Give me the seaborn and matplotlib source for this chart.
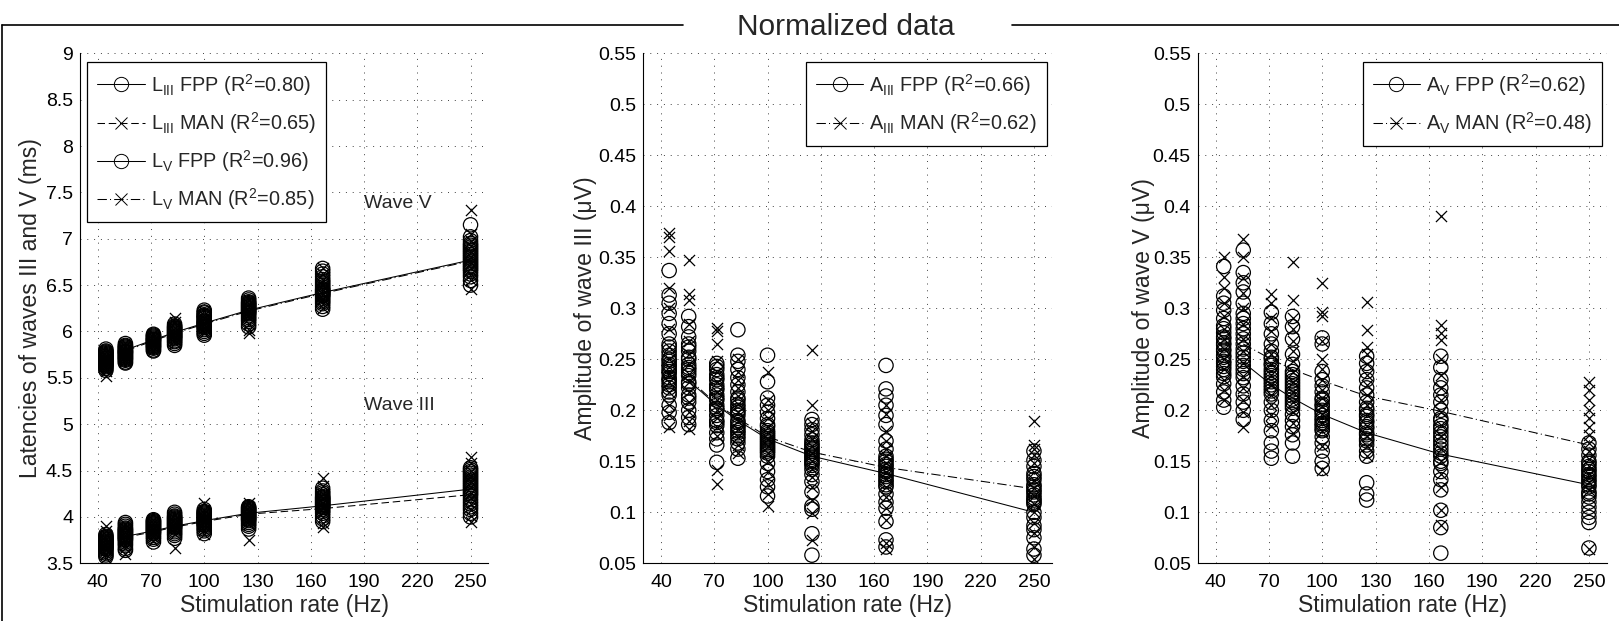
import numpy as np
import pandas as pd
import matplotlib
matplotlib.use("Agg")
import matplotlib.pyplot as plt
from matplotlib.lines import Line2D
from matplotlib.ticker import MultipleLocator, FixedLocator, FuncFormatter
import seaborn as sns

# ---------------- data ----------------
RATES = [44.6, 55.6, 71.4, 83.3, 100, 125, 166.7, 250]
FIT_RATES = [55.6, 71.4, 83.3, 100, 125, 166.7, 250]
X_TICKS = [40, 70, 100, 130, 160, 190, 220, 250]

# Panel 1 - latencies (ms)
LV_FPP = [
    [5.81, 5.79, 5.78, 5.77, 5.76, 5.75, 5.74, 5.73, 5.72, 5.71, 5.71, 5.70, 5.69, 5.68, 5.67, 5.66, 5.65, 5.64, 5.63, 5.62, 5.60, 5.58],
    [5.87, 5.85, 5.84, 5.83, 5.82, 5.81, 5.80, 5.79, 5.78, 5.78, 5.77, 5.76, 5.75, 5.74, 5.73, 5.72, 5.71, 5.70, 5.69, 5.67, 5.66],
    [5.97, 5.96, 5.95, 5.94, 5.93, 5.92, 5.91, 5.91, 5.90, 5.89, 5.88, 5.87, 5.86, 5.85, 5.84, 5.83, 5.82, 5.80, 5.79],
    [6.08, 6.06, 6.05, 6.04, 6.03, 6.02, 6.01, 6.00, 5.99, 5.98, 5.97, 5.96, 5.95, 5.94, 5.93, 5.92, 5.90, 5.89, 5.87, 5.85],
    [6.23, 6.21, 6.20, 6.18, 6.17, 6.16, 6.15, 6.14, 6.12, 6.11, 6.10, 6.09, 6.08, 6.07, 6.06, 6.05, 6.04, 6.02, 6.00, 5.98, 5.96],
    [6.36, 6.34, 6.32, 6.31, 6.30, 6.29, 6.28, 6.27, 6.26, 6.25, 6.24, 6.23, 6.22, 6.21, 6.20, 6.19, 6.17, 6.15, 6.13, 6.11, 6.08, 6.05],
    [6.68, 6.65, 6.62, 6.59, 6.56, 6.54, 6.52, 6.50, 6.48, 6.46, 6.45, 6.44, 6.43, 6.42, 6.41, 6.40, 6.39, 6.38, 6.36, 6.34, 6.32, 6.30, 6.27, 6.24],
    [7.15, 7.02, 6.98, 6.95, 6.93, 6.91, 6.89, 6.87, 6.85, 6.83, 6.81, 6.79, 6.77, 6.75, 6.73, 6.71, 6.69, 6.67, 6.65, 6.62, 6.59, 6.55, 6.50],
]
LV_MAN = [
    [5.78, 5.75, 5.72, 5.70, 5.68, 5.66, 5.64, 5.62, 5.60, 5.57, 5.52],
    [5.88, 5.84, 5.80, 5.78, 5.76, 5.74, 5.72, 5.70, 5.68],
    [5.97, 5.94, 5.91, 5.89, 5.87, 5.85, 5.83, 5.80],
    [6.14, 6.10, 6.04, 6.00, 5.97, 5.94, 5.91, 5.88],
    [6.22, 6.18, 6.14, 6.10, 6.07, 6.04, 6.01, 5.98],
    [6.34, 6.30, 6.26, 6.22, 6.18, 6.14, 6.08, 6.02, 5.98],
    [6.68, 6.62, 6.55, 6.50, 6.45, 6.40, 6.35, 6.30, 6.25],
    [7.31, 7.05, 6.98, 6.92, 6.86, 6.80, 6.74, 6.68, 6.62, 6.55, 6.46],
]
LIII_FPP = [
    [3.81, 3.79, 3.78, 3.77, 3.76, 3.75, 3.74, 3.73, 3.72, 3.72, 3.71, 3.70, 3.69, 3.68, 3.67, 3.66, 3.65, 3.63, 3.61, 3.59, 3.57],
    [3.94, 3.92, 3.90, 3.88, 3.87, 3.86, 3.85, 3.84, 3.83, 3.82, 3.81, 3.80, 3.79, 3.78, 3.77, 3.76, 3.75, 3.73, 3.71, 3.69, 3.66, 3.64],
    [3.97, 3.96, 3.95, 3.94, 3.93, 3.92, 3.91, 3.90, 3.89, 3.88, 3.87, 3.86, 3.85, 3.84, 3.83, 3.82, 3.80, 3.78, 3.76, 3.73],
    [4.05, 4.03, 4.01, 4.00, 3.99, 3.98, 3.97, 3.96, 3.95, 3.94, 3.93, 3.92, 3.91, 3.90, 3.89, 3.88, 3.86, 3.84, 3.82, 3.80, 3.77],
    [4.08, 4.06, 4.05, 4.04, 4.03, 4.02, 4.01, 4.00, 3.99, 3.98, 3.97, 3.96, 3.95, 3.94, 3.93, 3.92, 3.91, 3.89, 3.87, 3.85, 3.82],
    [4.11, 4.10, 4.09, 4.08, 4.07, 4.06, 4.05, 4.04, 4.03, 4.02, 4.01, 4.00, 3.99, 3.98, 3.97, 3.96, 3.94, 3.92, 3.90, 3.87],
    [4.31, 4.28, 4.26, 4.24, 4.22, 4.21, 4.20, 4.19, 4.18, 4.17, 4.16, 4.15, 4.14, 4.13, 4.12, 4.11, 4.10, 4.08, 4.06, 4.04, 4.01, 3.98, 3.95],
    [4.53, 4.51, 4.49, 4.47, 4.45, 4.43, 4.41, 4.39, 4.37, 4.35, 4.33, 4.31, 4.29, 4.27, 4.25, 4.23, 4.20, 4.17, 4.14, 4.11, 4.08, 4.04, 4.00],
]
LIII_MAN = [
    [3.90, 3.85, 3.80, 3.76, 3.73, 3.70, 3.67, 3.64, 3.60, 3.56],
    [3.92, 3.88, 3.84, 3.80, 3.77, 3.74, 3.70, 3.66, 3.60],
    [3.97, 3.93, 3.90, 3.87, 3.84, 3.81, 3.78, 3.74],
    [4.02, 3.98, 3.95, 3.92, 3.89, 3.86, 3.82, 3.67],
    [4.15, 4.08, 4.04, 4.00, 3.96, 3.93, 3.90, 3.86, 3.82],
    [4.15, 4.11, 4.08, 4.05, 4.02, 3.99, 3.96, 3.92, 3.75],
    [4.42, 4.33, 4.25, 4.20, 4.15, 4.10, 4.05, 4.00, 3.94, 3.89],
    [4.65, 4.58, 4.50, 4.44, 4.38, 4.32, 4.26, 4.20, 4.14, 4.08, 4.01, 3.95],
]
FIT_LIII_FPP = [3.79, 3.85, 3.90, 3.96, 4.04, 4.12, 4.30]
FIT_LIII_MAN = [3.78, 3.84, 3.89, 3.95, 4.03, 4.09, 4.24]
FIT_LV_FPP = [5.80, 5.91, 5.99, 6.09, 6.23, 6.42, 6.77]
FIT_LV_MAN = [5.79, 5.90, 5.98, 6.08, 6.22, 6.41, 6.76]

# Panel 2 - amplitude of wave III (uV)
AIII_FPP = [
    [0.337, 0.313, 0.305, 0.295, 0.285, 0.275, 0.265, 0.262, 0.258, 0.254, 0.250, 0.248, 0.245, 0.243, 0.240, 0.238, 0.236, 0.232, 0.230, 0.228, 0.225, 0.222, 0.218, 0.215, 0.205, 0.198, 0.188],
    [0.292, 0.282, 0.272, 0.265, 0.262, 0.258, 0.252, 0.250, 0.245, 0.242, 0.240, 0.237, 0.234, 0.228, 0.226, 0.222, 0.215, 0.212, 0.208, 0.200, 0.193, 0.186],
    [0.246, 0.243, 0.240, 0.235, 0.232, 0.230, 0.225, 0.222, 0.220, 0.215, 0.212, 0.210, 0.205, 0.202, 0.200, 0.195, 0.190, 0.188, 0.185, 0.178, 0.172, 0.166, 0.149],
    [0.279, 0.254, 0.248, 0.240, 0.232, 0.225, 0.218, 0.212, 0.210, 0.206, 0.203, 0.200, 0.198, 0.195, 0.190, 0.188, 0.185, 0.183, 0.180, 0.178, 0.175, 0.172, 0.168, 0.162, 0.153],
    [0.254, 0.228, 0.212, 0.205, 0.198, 0.192, 0.186, 0.184, 0.180, 0.178, 0.176, 0.174, 0.172, 0.170, 0.168, 0.166, 0.164, 0.162, 0.160, 0.158, 0.155, 0.148, 0.140, 0.132, 0.125, 0.116],
    [0.191, 0.186, 0.181, 0.176, 0.171, 0.168, 0.166, 0.164, 0.162, 0.160, 0.158, 0.156, 0.154, 0.152, 0.150, 0.148, 0.146, 0.142, 0.137, 0.130, 0.120, 0.106, 0.103, 0.079, 0.058],
    [0.244, 0.221, 0.214, 0.205, 0.195, 0.186, 0.170, 0.162, 0.155, 0.152, 0.150, 0.147, 0.145, 0.142, 0.140, 0.137, 0.135, 0.132, 0.130, 0.127, 0.125, 0.118, 0.110, 0.104, 0.091, 0.073, 0.066],
    [0.160, 0.151, 0.145, 0.138, 0.135, 0.132, 0.127, 0.125, 0.122, 0.120, 0.117, 0.114, 0.112, 0.110, 0.108, 0.100, 0.095, 0.087, 0.083, 0.075, 0.064, 0.058],
]
AIII_MAN = [
    [0.374, 0.370, 0.356, 0.320, 0.300, 0.280, 0.262, 0.250, 0.242, 0.236, 0.228, 0.218, 0.205, 0.195, 0.184],
    [0.347, 0.314, 0.308, 0.285, 0.268, 0.255, 0.245, 0.236, 0.228, 0.218, 0.208, 0.198, 0.190, 0.182],
    [0.281, 0.278, 0.265, 0.248, 0.238, 0.228, 0.218, 0.210, 0.200, 0.192, 0.184, 0.175, 0.141, 0.128],
    [0.250, 0.238, 0.230, 0.222, 0.214, 0.206, 0.198, 0.190, 0.182, 0.174, 0.166, 0.158],
    [0.238, 0.210, 0.200, 0.192, 0.184, 0.178, 0.172, 0.165, 0.158, 0.150, 0.140, 0.128, 0.118, 0.106],
    [0.259, 0.205, 0.188, 0.180, 0.172, 0.165, 0.158, 0.150, 0.142, 0.135, 0.125, 0.112, 0.099, 0.073],
    [0.205, 0.196, 0.180, 0.170, 0.162, 0.155, 0.148, 0.140, 0.133, 0.125, 0.115, 0.104, 0.092, 0.070, 0.064],
    [0.190, 0.166, 0.162, 0.156, 0.148, 0.140, 0.132, 0.124, 0.116, 0.108, 0.100, 0.090, 0.080, 0.066, 0.054],
]
FIT_AIII_FPP = [0.229, 0.205, 0.190, 0.172, 0.155, 0.138, 0.100]
FIT_AIII_MAN = [0.231, 0.206, 0.192, 0.174, 0.159, 0.144, 0.123]

# Panel 3 - amplitude of wave V (uV)
AV_FPP = [
    [0.341, 0.312, 0.305, 0.298, 0.290, 0.283, 0.280, 0.276, 0.272, 0.270, 0.266, 0.264, 0.260, 0.258, 0.254, 0.252, 0.248, 0.246, 0.243, 0.240, 0.236, 0.233, 0.226, 0.218, 0.210, 0.203],
    [0.357, 0.335, 0.325, 0.316, 0.305, 0.295, 0.290, 0.285, 0.280, 0.275, 0.270, 0.265, 0.260, 0.256, 0.252, 0.248, 0.244, 0.240, 0.236, 0.232, 0.224, 0.216, 0.208, 0.200, 0.191],
    [0.296, 0.285, 0.275, 0.265, 0.258, 0.252, 0.250, 0.246, 0.244, 0.240, 0.237, 0.234, 0.231, 0.228, 0.225, 0.222, 0.219, 0.216, 0.208, 0.200, 0.190, 0.180, 0.168, 0.160, 0.153],
    [0.292, 0.282, 0.270, 0.255, 0.245, 0.238, 0.235, 0.232, 0.229, 0.226, 0.223, 0.220, 0.217, 0.214, 0.211, 0.208, 0.205, 0.202, 0.196, 0.190, 0.184, 0.176, 0.168, 0.155],
    [0.271, 0.265, 0.238, 0.230, 0.224, 0.218, 0.212, 0.210, 0.206, 0.204, 0.200, 0.198, 0.195, 0.192, 0.190, 0.187, 0.185, 0.182, 0.180, 0.174, 0.168, 0.160, 0.150, 0.143],
    [0.253, 0.246, 0.238, 0.230, 0.222, 0.215, 0.208, 0.202, 0.200, 0.196, 0.194, 0.190, 0.188, 0.184, 0.182, 0.178, 0.176, 0.172, 0.170, 0.166, 0.160, 0.155, 0.129, 0.118, 0.112],
    [0.253, 0.242, 0.230, 0.222, 0.215, 0.208, 0.200, 0.192, 0.190, 0.185, 0.182, 0.178, 0.174, 0.170, 0.166, 0.162, 0.158, 0.155, 0.150, 0.148, 0.140, 0.132, 0.122, 0.102, 0.085, 0.060],
    [0.168, 0.162, 0.156, 0.150, 0.148, 0.145, 0.142, 0.140, 0.137, 0.135, 0.132, 0.130, 0.127, 0.125, 0.120, 0.118, 0.115, 0.110, 0.105, 0.100, 0.095, 0.090, 0.065],
]
AV_MAN = [
    [0.350, 0.331, 0.320, 0.305, 0.292, 0.280, 0.270, 0.260, 0.250, 0.240, 0.230, 0.220, 0.210],
    [0.368, 0.350, 0.330, 0.315, 0.300, 0.285, 0.270, 0.258, 0.246, 0.234, 0.222, 0.210, 0.198, 0.184],
    [0.314, 0.305, 0.290, 0.278, 0.265, 0.255, 0.245, 0.235, 0.225, 0.215, 0.205, 0.195, 0.185],
    [0.345, 0.308, 0.290, 0.280, 0.268, 0.258, 0.248, 0.238, 0.228, 0.218, 0.208, 0.198, 0.188, 0.178],
    [0.325, 0.296, 0.292, 0.268, 0.250, 0.240, 0.230, 0.220, 0.212, 0.204, 0.196, 0.188, 0.180, 0.165, 0.141],
    [0.306, 0.279, 0.262, 0.255, 0.245, 0.235, 0.225, 0.215, 0.205, 0.195, 0.185, 0.175, 0.165, 0.155],
    [0.390, 0.284, 0.276, 0.269, 0.250, 0.235, 0.222, 0.210, 0.198, 0.186, 0.175, 0.162, 0.150, 0.138, 0.125, 0.102, 0.088],
    [0.228, 0.220, 0.210, 0.200, 0.192, 0.184, 0.176, 0.168, 0.160, 0.152, 0.145, 0.138, 0.130, 0.122, 0.064],
]
FIT_AV_FPP = [0.247, 0.225, 0.212, 0.196, 0.178, 0.157, 0.127]
FIT_AV_MAN = [0.265, 0.250, 0.240, 0.229, 0.214, 0.199, 0.166]

# ---------------- style ----------------
sns.set_style("white")
plt.rcParams["font.family"] = ["Liberation Sans", "DejaVu Sans"]
plt.rcParams["mathtext.default"] = "regular"

W, H = 1619, 621
fig = plt.figure(figsize=(W / 100, H / 100), dpi=100)
fig.patch.set_facecolor("white")

TICK_FS = 14
LABEL_FS = 16.6
LEG_FS = 14.3
CIRCLE_MS = 10.3
X_MS = 8.0
MEW = 0.9
DASHED = (0, (7.2, 3.6))
DASHDOT = (0, (9, 3, 1, 3))


def to_frame(series):
    rows = []
    for rate, vals in zip(RATES, series):
        for v in vals:
            rows.append((rate, v))
    return pd.DataFrame(rows, columns=["rate", "value"])


def draw_cloud(ax, series, marker):
    df = to_frame(series)
    if marker == "o":
        sns.scatterplot(data=df, x="rate", y="value", marker="o", s=CIRCLE_MS ** 2,
                        color="k", linewidth=MEW, ax=ax, legend=False, zorder=3)
        coll = ax.collections[-1]
        coll.set_facecolor("none")
        coll.set_edgecolor("k")
    else:
        sns.scatterplot(data=df, x="rate", y="value", marker="x", s=X_MS ** 2,
                        color="k", linewidth=MEW, ax=ax, legend=False, zorder=3)


def draw_fit(ax, fit, ls):
    sns.lineplot(x=FIT_RATES, y=fit, ax=ax, color="k", linewidth=0.75,
                 linestyle=ls, estimator=None, sort=False, legend=False, zorder=4)


def style_axis(ax, ylim, ystep, ylabel, label_x):
    ax.set_xlim(30, 260)
    ax.set_ylim(*ylim)
    ax.xaxis.set_major_locator(FixedLocator(X_TICKS))
    ax.xaxis.set_minor_locator(MultipleLocator(5))
    ax.yaxis.set_major_locator(MultipleLocator(ystep))
    ax.yaxis.set_major_formatter(FuncFormatter(lambda v, p: f"{round(v, 4):g}"))
    for s in ["top", "right"]:
        ax.spines[s].set_visible(False)
    for s in ["left", "bottom"]:
        ax.spines[s].set_color("k")
        ax.spines[s].set_linewidth(0.8)
    ax.tick_params(which="major", direction="in", length=4, width=0.8,
                   labelsize=TICK_FS, colors="k", top=False, right=False)
    ax.tick_params(axis="y", which="major", pad=5)
    ax.tick_params(axis="x", which="major", pad=8)
    ax.tick_params(axis="y", which="minor", left=False)
    ax.tick_params(axis="x", which="minor", direction="in", length=2, width=0.6,
                   top=False)
    ax.grid(True, which="major", linestyle=(0, (1, 6)), linewidth=0.7, color="0.25")
    ax.set_axisbelow(True)
    ax.set_xlabel("Stimulation rate (Hz)", fontsize=LABEL_FS)
    ax.xaxis.set_label_coords(0.5, -0.060)
    ax.set_ylabel(ylabel, fontsize=LABEL_FS)
    ax.yaxis.set_label_coords(label_x, 0.5)


def legend_handle(marker, ls):
    ms = CIRCLE_MS if marker == "o" else X_MS
    return Line2D([], [], color="k", linestyle=ls, linewidth=0.75, marker=marker,
                  markersize=ms, markerfacecolor="none", markeredgecolor="k",
                  markeredgewidth=0.7)


def add_legend(ax, handles, labels, loc, anchor):
    leg = ax.legend(handles, labels, loc=loc, bbox_to_anchor=anchor, borderaxespad=0,
                    fontsize=LEG_FS, frameon=True, fancybox=False, framealpha=1,
                    edgecolor="k", handlelength=2.4, handletextpad=0.3,
                    labelspacing=0.62, borderpad=0.5, numpoints=1)
    leg.get_frame().set_linewidth(0.9)
    leg.set_zorder(10)


# ---------------- panel 1 ----------------
ax1 = fig.add_axes([0.0494, 0.0929, 0.2522, 0.8213])
draw_cloud(ax1, LIII_FPP, "o")
draw_cloud(ax1, LIII_MAN, "x")
draw_cloud(ax1, LV_FPP, "o")
draw_cloud(ax1, LV_MAN, "x")
draw_fit(ax1, FIT_LIII_FPP, "-")
draw_fit(ax1, FIT_LIII_MAN, DASHED)
draw_fit(ax1, FIT_LV_FPP, "-")
draw_fit(ax1, FIT_LV_MAN, DASHDOT)
style_axis(ax1, (3.5, 9), 0.5, "Latencies of waves III and V (ms)", -0.093)
ax1.text(190, 7.375, "Wave V", fontsize=14, ha="left", va="center")
ax1.text(190, 5.2, "Wave III", fontsize=14, ha="left", va="center")
add_legend(ax1,
           [legend_handle("o", "-"), legend_handle("x", DASHED),
            legend_handle("o", "-"), legend_handle("x", DASHDOT)],
           [r"$L_{III}$ FPP (R$^2$=0.80)", r"$L_{III}$ MAN (R$^2$=0.65)",
            r"$L_{V}$ FPP (R$^2$=0.96)", r"$L_{V}$ MAN (R$^2$=0.85)"],
           "upper left", (0.018, 0.9835))

# ---------------- panel 2 ----------------
ax2 = fig.add_axes([0.3973, 0.0929, 0.2523, 0.8213])
draw_cloud(ax2, AIII_FPP, "o")
draw_cloud(ax2, AIII_MAN, "x")
draw_fit(ax2, FIT_AIII_FPP, "-")
draw_fit(ax2, FIT_AIII_MAN, DASHDOT)
style_axis(ax2, (0.05, 0.55), 0.05, "Amplitude of wave III (\u03bcV)", -0.112)
add_legend(ax2,
           [legend_handle("o", "-"), legend_handle("x", DASHDOT)],
           [r"$A_{III}$ FPP (R$^2$=0.66)", r"$A_{III}$ MAN (R$^2$=0.62)"],
           "upper right", (0.988, 0.9835))

# ---------------- panel 3 ----------------
ax3 = fig.add_axes([0.7398, 0.0929, 0.2526, 0.8213])
draw_cloud(ax3, AV_FPP, "o")
draw_cloud(ax3, AV_MAN, "x")
draw_fit(ax3, FIT_AV_FPP, "-")
draw_fit(ax3, FIT_AV_MAN, DASHDOT)
style_axis(ax3, (0.05, 0.55), 0.05, "Amplitude of wave V (\u03bcV)", -0.104)
add_legend(ax3,
           [legend_handle("o", "-"), legend_handle("x", DASHDOT)],
           [r"$A_{V}$ FPP (R$^2$=0.62)", r"$A_{V}$ MAN (R$^2$=0.48)"],
           "upper right", (0.988, 0.9835))

# ---------------- panel frame with title ----------------
y_top = (H - 25) / H
x_left = 2 / W
frame_kw = dict(transform=fig.transFigure, color="k", linewidth=1.2)
fig.add_artist(Line2D([x_left, 683 / W], [y_top, y_top], **frame_kw))
fig.add_artist(Line2D([1012 / W, 1.0], [y_top, y_top], **frame_kw))
fig.add_artist(Line2D([x_left, x_left], [y_top, 0.0], **frame_kw))
fig.text(846 / W, (H - 35) / H, "Normalized data", fontsize=21.5,
         ha="center", va="baseline")

fig.savefig("out.png", dpi=100)
